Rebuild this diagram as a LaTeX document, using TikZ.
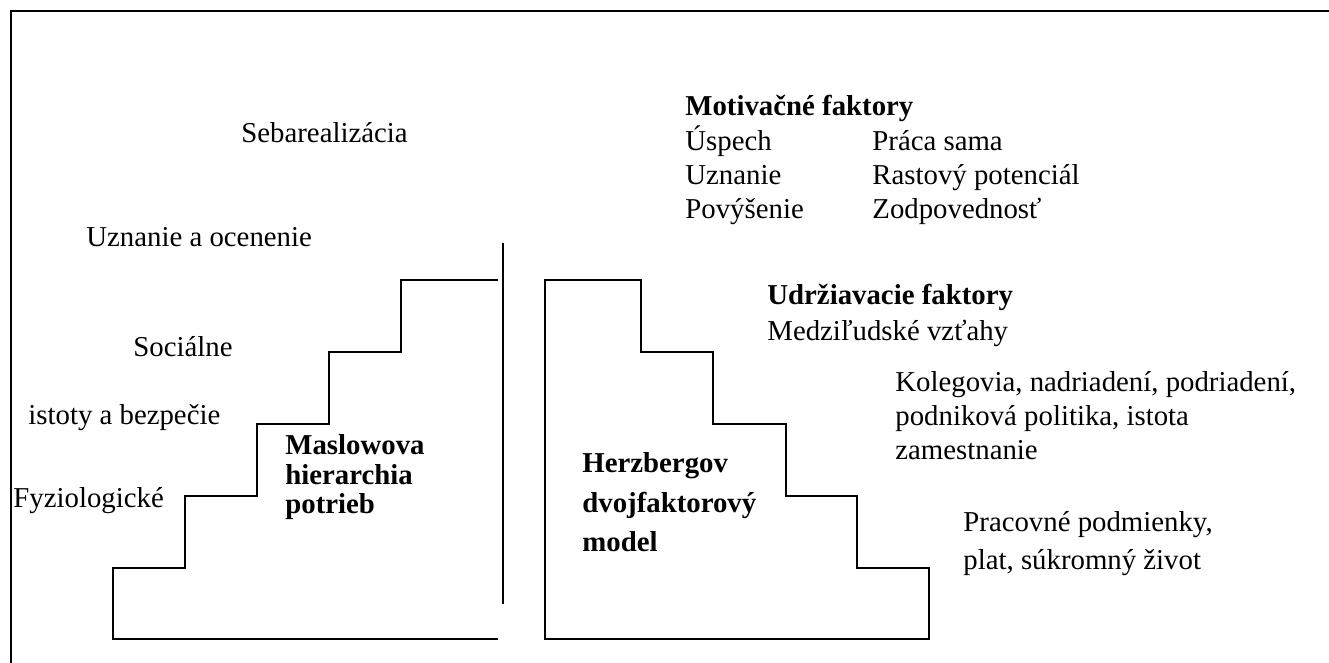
\documentclass[tikz,border=0pt]{standalone}
\usepackage{fontspec}
\setmainfont{Liberation Serif}
\usepackage{tikz}
\newdimen\unitsize
\setlength{\unitsize}{0.5pt}

\begin{document}
\begin{tikzpicture}[x=\unitsize,y=\unitsize,baseline=0]
\tikzset{label/.style={anchor=base west, inner sep=0pt, align=left, font=\fontsize{14.4pt}{17pt}\selectfont}}%
\tikzset{boldlabel/.style={label, font=\fontsize{14.4pt}{17pt}\selectfont\bfseries}}%
\tikzset{edge/.style={line width=1pt}}%
\useasboundingbox (0,0) rectangle (1329,663);
\draw[line width=1.3pt] (11,0) -- (11,652) -- (1329,652);
% Maslow
\draw[edge] (498,383) -- (401,383) -- (401,311) -- (329,311) -- (329,239) -- (257,239)
  -- (257,167) -- (185,167) -- (185,95) -- (113,95) -- (113,24) -- (498,24);
\draw[edge] (503,420) -- (503,59);
% Herzberg
\draw[edge] (545,24) -- (545,383) -- (641,383) -- (641,311) -- (713,311) -- (713,239)
  -- (786,239) -- (786,167) -- (857,167) -- (857,95) -- (929,95) -- (929,24) -- cycle;
\node[label] (sebar) at (241,520) {Sebarealizácia};
\node[label] (uznanie) at (86,416) {Uznanie a ocenenie};
\node[label] (socialne) at (133,306) {Sociálne};
\node[label] (istoty) at (28,238) {istoty a bezpečie};
\node[label] (fyzio) at (13,155) {Fyziologické};
\node[boldlabel, font=\fontsize{14.4pt}{14.75pt}\selectfont\bfseries] (maslow) at (285,149) {Maslowova\\hierarchia\\potrieb};
\node[boldlabel, font=\fontsize{14.4pt}{19.75pt}\selectfont\bfseries] (herzberg) at (582,111) {Herzbergov\\dvojfaktorový\\model};
\node[boldlabel] (motiv) at (685,547) {Motivačné faktory};
\node[label] (motivL) at (685,444) {Úspech\\Uznanie\\Povýšenie};
\node[label] (motivR) at (872,444) {Práca sama\\Rastový potenciál\\Zodpovednosť};
\node[label, font=\fontsize{14.4pt}{18pt}\selectfont] (udrz) at (767,322) {\textbf{Udržiavacie faktory}\\Medziľudské vzťahy};
\node[label] (koleg) at (895,203) {Kolegovia, nadriadení, podriadení,\\podniková politika, istota\\zamestnanie};
\node[label, font=\fontsize{14.4pt}{19pt}\selectfont] (prac) at (963,93) {Pracovné podmienky,\\plat, súkromný život};
\end{tikzpicture}
\end{document}
